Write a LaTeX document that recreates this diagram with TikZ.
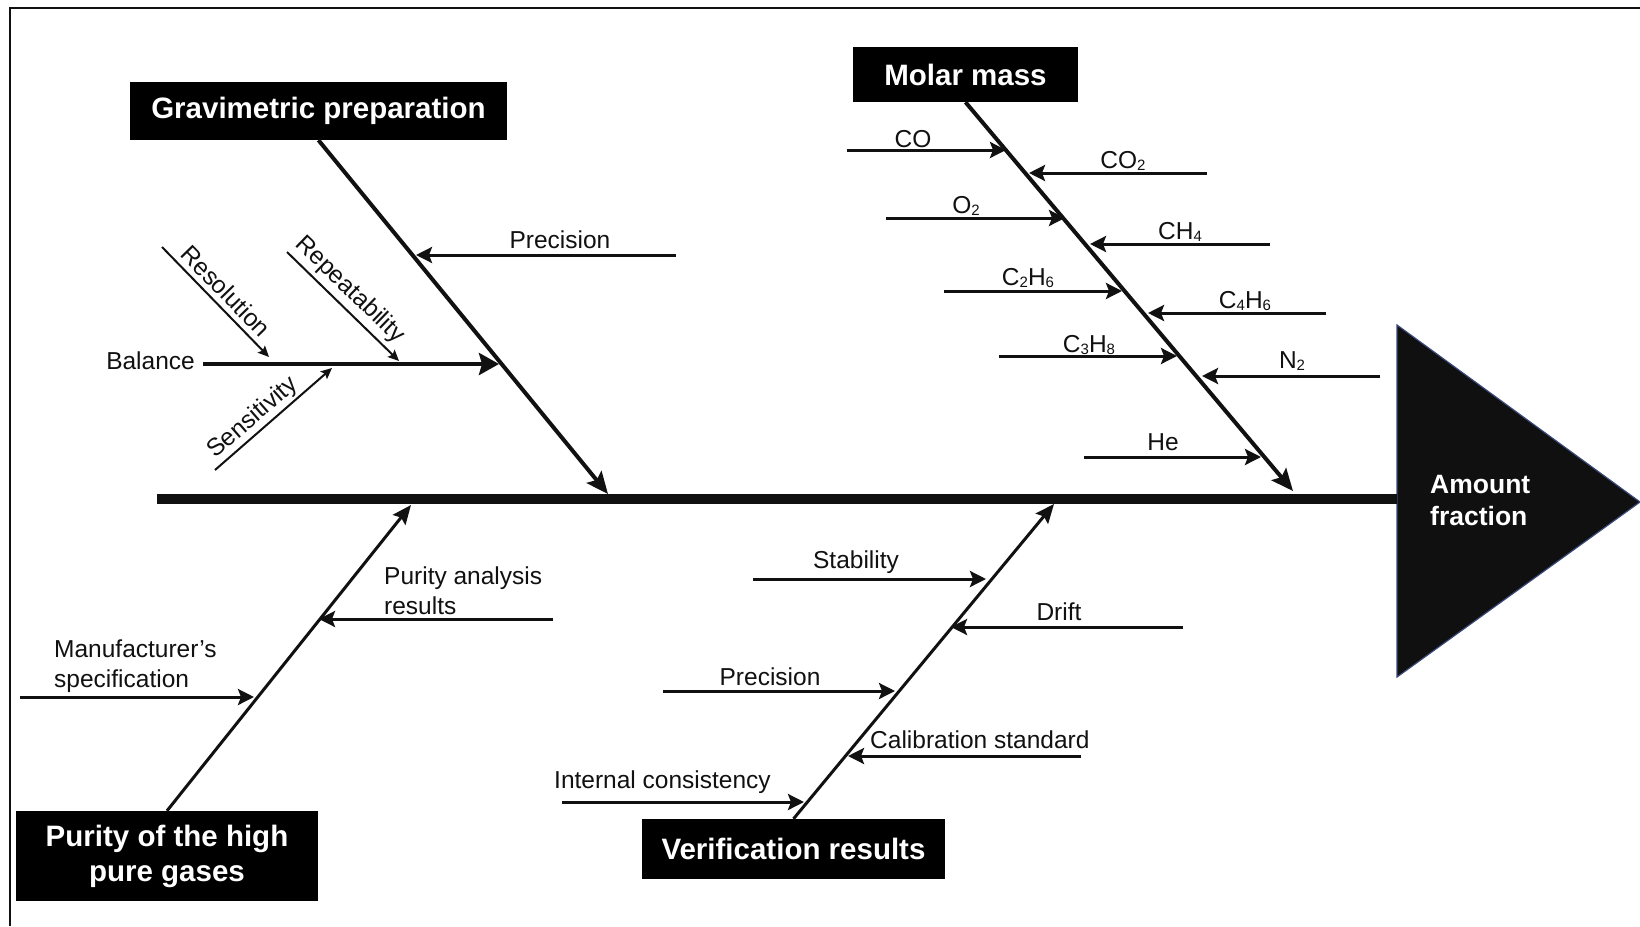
\documentclass[tikz,border=0pt]{standalone}
\usepackage{fontspec}
\setmainfont{Liberation Sans}
\usetikzlibrary{arrows.meta,calc}
\definecolor{ink}{HTML}{111111}
\definecolor{trifill}{HTML}{101010}
\definecolor{triedge}{HTML}{3A4A7A}
\newcommand{\chemsub}[1]{\raisebox{-2pt}{\fontsize{15}{15}\selectfont #1}}
\tikzset{
  lbl/.style={font=\fontsize{24.5}{30}\selectfont, inner sep=0pt, text=ink},
  boxnode/.style={fill=black, text=white, font=\fontsize{29.5}{35}\selectfont\bfseries, inner sep=0pt, align=center},
  spine/.style={line width=10pt, draw=ink},
  bigbone/.style={line width=4pt, draw=ink, -{Stealth[length=22pt,width=19pt,inset=4pt]}},
  midbone/.style={line width=3pt, draw=ink, -{Stealth[length=19pt,width=16pt,inset=3pt]}},
  balarrow/.style={line width=4pt, draw=ink, -{Stealth[length=20pt,width=22pt,inset=3pt]}},
  subarrow/.style={line width=3pt, draw=ink, -{Stealth[length=16pt,width=16pt,inset=3pt]}},
  thinarrow/.style={line width=2pt, draw=ink, -{Stealth[length=11pt,width=10pt,inset=2pt]}},
}
\begin{document}
\begin{tikzpicture}[x=1pt,y=-1pt]
\useasboundingbox (0,0) rectangle (1640,926);
\fill[white] (0,0) rectangle (1640,926);
\draw[line width=2.5pt, draw=ink] (10,926) -- (10,8) -- (1640,8);

% head triangle and spine
\draw[fill=trifill, draw=triedge, line width=1.2pt] (1397,325) -- (1640,502) -- (1397,677) -- cycle;
\coordinate (head) at (1397,499);
\coordinate (tail) at (157,499);
\draw[spine] (tail) -- (head);
\node[anchor=west, text=white, font=\fontsize{26.5}{32}\selectfont\bfseries, align=left, inner sep=0pt] (amt) at (1430,501) {Amount\\fraction};

% category boxes
\node[boxnode, minimum width=377pt, minimum height=58pt] (grav) at (318.5,111) {Gravimetric preparation};
\node[boxnode, minimum width=225pt, minimum height=55pt] (molar) at (965.5,74.5) {Molar mass};
\node[boxnode, minimum width=302pt, minimum height=90pt] (purity) at (167,856) {Purity of the high\\pure gases};
\node[boxnode, minimum width=303pt, minimum height=60pt] (verif) at (793.5,849) {Verification results};

% main bones
\coordinate (gT) at (608,494);
\coordinate (mT) at (1293,491);
\coordinate (pT) at (411,505);
\coordinate (vT) at (1054,504);
\draw[bigbone] (grav.south) -- (gT);
\draw[bigbone] (molar.south) -- (mT);
\draw[midbone] (purity.north) -- (pT);
\draw[midbone] (verif.north) -- (vT);

% gravimetric preparation
\coordinate (gpS) at (676,255); \coordinate (gpT) at (416,255);
\draw[subarrow] (gpS) -- (gpT);
\node[lbl, anchor=base] (gpL) at (560,248) {Precision};
\coordinate (bS) at (203,364); \coordinate (bT) at (499,364);
\draw[balarrow] (bS) -- (bT);
\node[lbl, anchor=base east] (bL) at (195,369) {Balance};
\coordinate (resS) at (162,247); \coordinate (resT) at (269,357);
\draw[thinarrow] (resS) -- (resT);
\node[lbl, rotate=-45.8] (resL) at (226,291) {Resolution};
\coordinate (repS) at (287,252); \coordinate (repT) at (399,361);
\draw[thinarrow] (repS) -- (repT);
\node[lbl, rotate=-44] (repL) at (350,290) {Repeatability};
\coordinate (senS) at (215,470); \coordinate (senT) at (332,368);
\draw[thinarrow] (senS) -- (senT);
\node[lbl, rotate=41] (senL) at (253,418) {Sensitivity};

% molar mass
\coordinate (coS) at (847,150); \coordinate (coT) at (1006,150);
\draw[subarrow] (coS) -- (coT);
\node[lbl, anchor=base] (coL) at (913,147) {CO};
\coordinate (co2S) at (1207,173); \coordinate (co2T) at (1029,173);
\draw[subarrow] (co2S) -- (co2T);
\node[lbl, anchor=base] (co2L) at (1123,168) {CO\chemsub{2}};
\coordinate (o2S) at (886,218); \coordinate (o2T) at (1065,218);
\draw[subarrow] (o2S) -- (o2T);
\node[lbl, anchor=base] (o2L) at (966,213) {O\chemsub{2}};
\coordinate (ch4S) at (1270,244); \coordinate (ch4T) at (1090,244);
\draw[subarrow] (ch4S) -- (ch4T);
\node[lbl, anchor=base] (ch4L) at (1180,239) {CH\chemsub{4}};
\coordinate (c2S) at (944,291); \coordinate (c2T) at (1122,291);
\draw[subarrow] (c2S) -- (c2T);
\node[lbl, anchor=base] (c2L) at (1028,285) {C\chemsub{2}H\chemsub{6}};
\coordinate (c4S) at (1326,313); \coordinate (c4T) at (1148,313);
\draw[subarrow] (c4S) -- (c4T);
\node[lbl, anchor=base] (c4L) at (1245,308) {C\chemsub{4}H\chemsub{6}};
\coordinate (c3S) at (999,356); \coordinate (c3T) at (1177,356);
\draw[subarrow] (c3S) -- (c3T);
\node[lbl, anchor=base] (c3L) at (1089,352) {C\chemsub{3}H\chemsub{8}};
\coordinate (n2S) at (1380,376); \coordinate (n2T) at (1202,376);
\draw[subarrow] (n2S) -- (n2T);
\node[lbl, anchor=base] (n2L) at (1292,368) {N\chemsub{2}};
\coordinate (heS) at (1084,457); \coordinate (heT) at (1261,457);
\draw[subarrow] (heS) -- (heT);
\node[lbl, anchor=base] (heL) at (1163,450) {He};

% purity
\coordinate (paS) at (553,619); \coordinate (paT) at (319,619);
\draw[subarrow] (paS) -- (paT);
\node[lbl, anchor=north west, align=left] (paL) at (384,567) {Purity analysis\\results};
\coordinate (msS) at (20,697); \coordinate (msT) at (254,697);
\draw[subarrow] (msS) -- (msT);
\node[lbl, anchor=north west, align=left] (msL) at (54,640) {Manufacturer’s\\specification};

% verification
\coordinate (stS) at (753,579); \coordinate (stT) at (986,579);
\draw[subarrow] (stS) -- (stT);
\node[lbl, anchor=base] (stL) at (856,568) {Stability};
\coordinate (drS) at (1183,627); \coordinate (drT) at (951,627);
\draw[subarrow] (drS) -- (drT);
\node[lbl, anchor=base] (drL) at (1059,620) {Drift};
\coordinate (vpS) at (663,691); \coordinate (vpT) at (895,691);
\draw[subarrow] (vpS) -- (vpT);
\node[lbl, anchor=base] (vpL) at (770,685) {Precision};
\coordinate (csS) at (1081,756); \coordinate (csT) at (848,756);
\draw[subarrow] (csS) -- (csT);
\node[lbl, anchor=base west] (csL) at (870,748) {Calibration standard};
\coordinate (icS) at (562,802); \coordinate (icT) at (804,802);
\draw[subarrow] (icS) -- (icT);
\node[lbl, anchor=base west] (icL) at (554,788) {Internal consistency};
\end{tikzpicture}
\end{document}
